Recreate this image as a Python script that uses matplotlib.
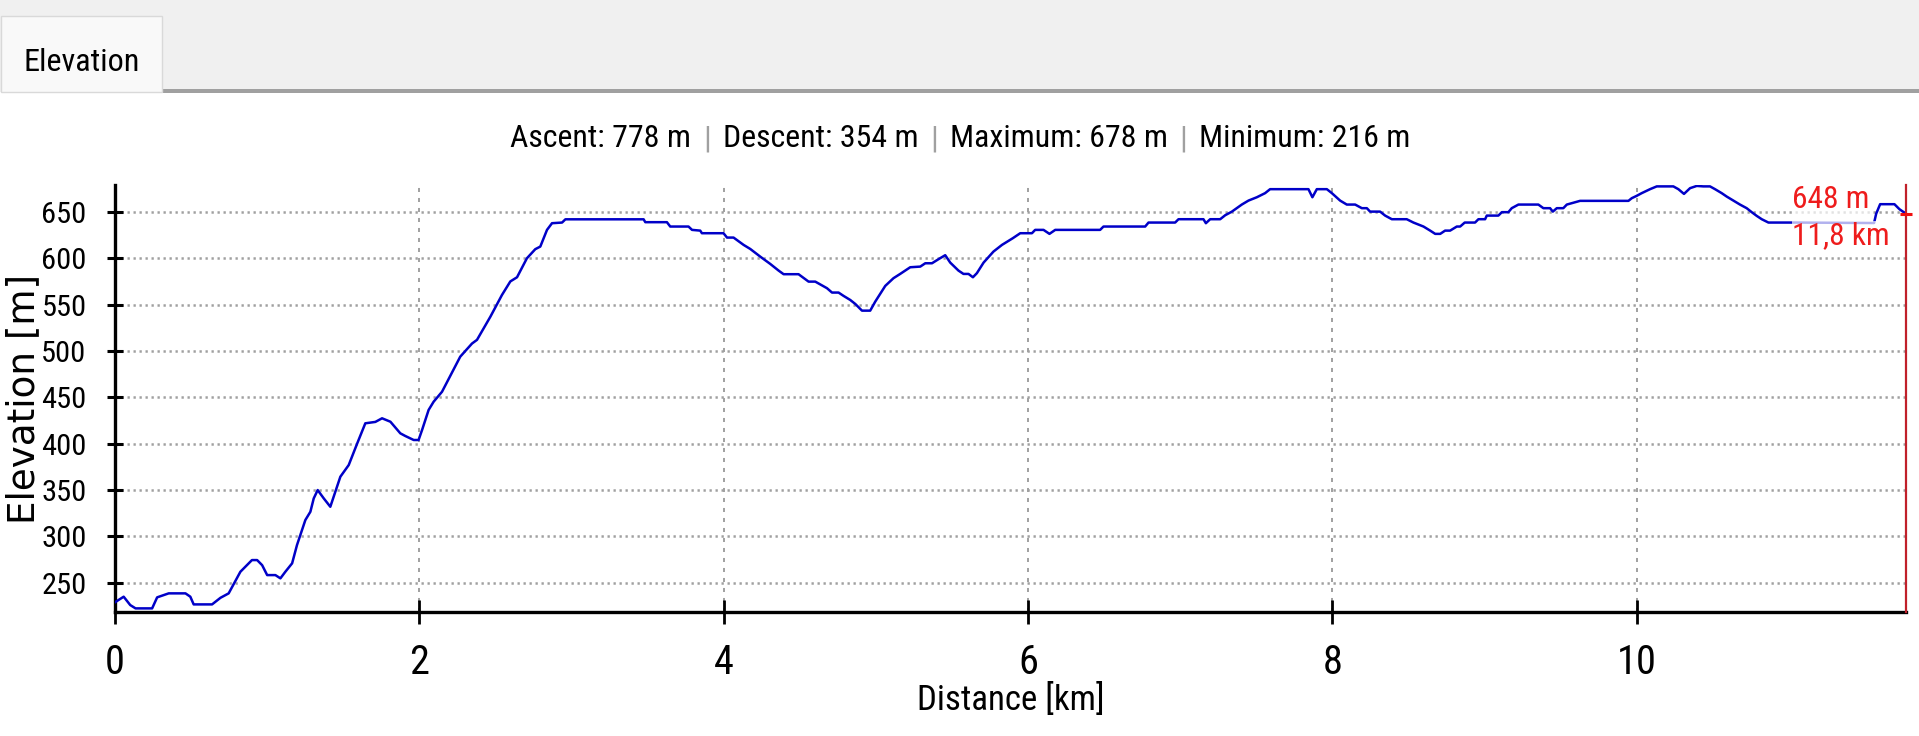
import matplotlib
matplotlib.use("Agg")
import matplotlib.pyplot as plt
from matplotlib import font_manager as fm
from matplotlib.patches import Rectangle

# elevation profile
dist_km = [0.0, 0.057, 0.10, 0.135, 0.244, 0.277, 0.353, 0.463, 0.495, 0.517,
           0.638, 0.693, 0.747, 0.824, 0.868, 0.90, 0.934, 0.967, 1.0, 1.054,
           1.087, 1.12, 1.164, 1.196, 1.251, 1.284, 1.306, 1.332, 1.372, 1.415,
           1.481, 1.536, 1.591, 1.645, 1.711, 1.755, 1.81, 1.875, 1.908, 1.963,
           1.995, 2.018, 2.061, 2.094, 2.149, 2.269, 2.346, 2.379, 2.467, 2.543,
           2.598, 2.642, 2.707, 2.762, 2.795, 2.839, 2.872, 2.938, 2.96, 3.474,
           3.485, 3.627, 3.649, 3.769, 3.792, 3.846, 3.857, 3.999, 4.022, 4.065,
           4.131, 4.175, 4.24, 4.306, 4.361, 4.394, 4.492, 4.525, 4.558, 4.602,
           4.679, 4.712, 4.755, 4.788, 4.832, 4.865, 4.909, 4.963, 4.996, 5.062,
           5.116, 5.16, 5.193, 5.226, 5.292, 5.325, 5.369, 5.412, 5.456, 5.489,
           5.543, 5.576, 5.609, 5.638, 5.664, 5.708, 5.773, 5.829, 5.90, 5.949,
           6.026, 6.047, 6.102, 6.141, 6.179, 6.474, 6.496, 6.77, 6.792, 6.967,
           6.989, 7.153, 7.169, 7.197, 7.263, 7.296, 7.34, 7.405, 7.449, 7.504,
           7.558, 7.591, 7.843, 7.869, 7.898, 7.964, 7.997, 8.051, 8.095, 8.15,
           8.194, 8.227, 8.248, 8.314, 8.347, 8.391, 8.489, 8.533, 8.599, 8.643,
           8.676, 8.709, 8.741, 8.774, 8.818, 8.84, 8.87, 8.938, 8.96, 9.004,
           9.015, 9.091, 9.114, 9.157, 9.179, 9.223, 9.354, 9.387, 9.431, 9.449,
           9.475, 9.518, 9.541, 9.628, 9.946, 9.968, 10.0, 10.033, 10.088, 10.132,
           10.241, 10.274, 10.311, 10.351, 10.395, 10.438, 10.482, 10.515, 10.559, 10.592,
           10.636, 10.679, 10.723, 10.756, 10.789, 10.822, 10.866, 11.041, 11.56, 11.574,
           11.60, 11.694, 11.727, 11.77]
elev_m = [229, 235, 226, 222.4, 222.4, 234.3, 238.6, 238.6, 235, 226.7,
          226.7, 233.8, 238.6, 261.9, 269.1, 274.5, 274.5, 269, 258.3, 258.3,
          254.8, 262, 271, 290.7, 317.7, 326.6, 341, 350, 341, 332,
          364.4, 377, 400, 422, 423.5, 427.4, 423.7, 411.2, 408.3, 404,
          404, 414.8, 436.4, 445.3, 456, 493.9, 508, 512, 537, 560.4,
          575, 579.5, 600, 609.8, 612.6, 630.6, 637.8, 638.5, 642, 642,
          638.9, 638.9, 634.2, 634.2, 630.6, 629.8, 627, 627, 622.3, 622.3,
          614.4, 610, 601.8, 593.9, 586.7, 582.8, 582.8, 578.8, 574.8, 574.8,
          567.7, 563, 563, 559.4, 555, 550.7, 543.5, 543.5, 553.2, 570.2,
          578.5, 583.1, 586.7, 590.3, 591, 594.6, 594.6, 599, 603.3, 595.3,
          586.7, 583.1, 583.1, 579.5, 583.9, 595.3, 607.2, 614.4, 621.6, 627,
          627, 630.6, 630.6, 626.3, 630.6, 630.6, 634.2, 634.2, 638.5, 638.5,
          642.1, 642.1, 637.8, 642.1, 642.1, 646.4, 650.3, 657.9, 662.2, 665.8,
          670.2, 674.5, 674.5, 665.8, 674.5, 674.5, 670.2, 662.2, 657.9, 657.9,
          654, 654, 650.3, 650.3, 646, 642.1, 642.1, 638.5, 634.2, 629.8,
          626.3, 626.3, 629.8, 629.8, 634.2, 634.2, 638.5, 638.5, 642.1, 642.1,
          646, 646, 649.7, 649.7, 654, 657.9, 657.9, 654, 654, 650.3,
          654, 654, 657.9, 661.9, 661.9, 664.8, 667.3, 670.2, 674.5, 677.5,
          677.5, 674.5, 669.4, 675.6, 678, 677.5, 677.5, 674.5, 670.2, 666.5,
          662.2, 657.9, 654, 649.7, 645.7, 642.1, 638.5, 638.5, 638, 648,
          658.3, 658.3, 652.9, 648]

ascent = 778
descent = 354
maximum = 678
minimum = 216
end_elev_label = "648 m"
end_dist_label = "11,8 km"

x_ticks = [0, 2, 4, 6, 8, 10]
y_ticks = [250, 300, 350, 400, 450, 500, 550, 600, 650]

# the screenshot text is very narrow, so look for a condensed face
names = {f.name for f in fm.fontManager.ttflist}
narrow, stretch = None, "normal"
for n in ["Liberation Sans Narrow", "Roboto Condensed", "DejaVu Sans Condensed",
          "Open Sans Condensed"]:
    if n in names:
        narrow = n
        break
if narrow is None and any(f.name == "DejaVu Sans" and str(f.stretch) == "condensed"
                          for f in fm.fontManager.ttflist):
    narrow, stretch = "DejaVu Sans", "condensed"
if narrow is None:
    narrow = "Liberation Sans"

plt.rcParams["font.family"] = [narrow, "DejaVu Sans"]
plt.rcParams["font.stretch"] = stretch
plt.rcParams["lines.scale_dashes"] = False

W, H = 1919, 736
fig = plt.figure(figsize=(W / 100, H / 100), dpi=100)

# window chrome: grey strip, tab and its underline
fig.patches.append(Rectangle((0, 1 - 92 / H), 1, 92 / H, transform=fig.transFigure,
                             facecolor="#f0f0f0", edgecolor="none", zorder=0))
fig.patches.append(Rectangle((162 / W, 1 - 93 / H), 1, 4 / H, transform=fig.transFigure,
                             facecolor="#a0a0a0", edgecolor="none", zorder=1))
fig.patches.append(Rectangle((1 / W, 1 - 92 / H), 161 / W, 76 / H, transform=fig.transFigure,
                             facecolor="#f9f9f9", edgecolor="#d9d9d9", lw=1, zorder=2))
tab = fig.text(82 / W, 1 - 71 / H, "Elevation", ha="center", va="baseline",
               fontsize=20, color="black")

ax = fig.add_axes([115 / W, 1 - 612 / H, 1791 / W, 427 / H])

ax.plot(dist_km, elev_m, color="#0000c8", lw=1.8, zorder=3)
ax.set_xlim(0, dist_km[-1])
ax.set_ylim(218.5, 679)
ax.set_xticks(x_ticks)
ax.set_yticks(y_ticks)

ax.spines["top"].set_visible(False)
ax.spines["right"].set_visible(False)
ax.spines["left"].set_linewidth(2.4)
ax.spines["bottom"].set_linewidth(2.4)

ax.tick_params(axis="x", direction="inout", length=17.3, width=2, pad=13.7, labelsize=20)
ax.tick_params(axis="y", direction="inout", length=12.2, width=2.2, pad=14.4, labelsize=20)

ax.set_axisbelow(True)
ax.grid(axis="y", color="#a0a0a0", lw=1.8, ls=(0, (1.66, 2.66)))
ax.grid(axis="x", color="#a0a0a0", lw=1.4, ls=(0, (2.9, 4.3)))

ax.set_xlabel("Distance [km]", fontsize=20, va="top")
ax.xaxis.set_label_coords(0.5, (612 - 683) / 427)
ylab = ax.set_ylabel("Elevation [m]", fontsize=27, va="center")
ylab.set_fontfamily(["DejaVu Sans"])
ylab.set_fontstretch("normal")
ax.yaxis.set_label_coords((24 - 115) / 1791, 0.5)

# end-of-track cursor
ax.axvline(dist_km[-1], color="#c0202a", lw=1.6, zorder=4, clip_on=False)
ax.plot(dist_km[-1], elev_m[-1], marker="_", ms=8.6, mew=2.2, color="#f01010",
        zorder=5, clip_on=False)
box = dict(facecolor="white", alpha=0.7, edgecolor="none", pad=0)
lab_m = ax.annotate(end_elev_label, xy=(dist_km[-1], elev_m[-1]), xytext=(-81.9, 3.8),
                    textcoords="offset points", ha="left", va="baseline",
                    color="#ee1c1c", fontsize=20, bbox=box, zorder=6)
lab_km = ax.annotate(end_dist_label, xy=(dist_km[-1], elev_m[-1]), xytext=(-81.9, -22.1),
                     textcoords="offset points", ha="left", va="baseline",
                     color="#ee1c1c", fontsize=20, bbox=box, zorder=6)

# summary line, black values with grey separators
pieces = [(f"Ascent: {ascent} m", "black"), ("|", "#a0a0a0"),
          (f"Descent: {descent} m", "black"), ("|", "#a0a0a0"),
          (f"Maximum: {maximum} m", "black"), ("|", "#a0a0a0"),
          (f"Minimum: {minimum} m", "black")]
texts = [fig.text(0, 1 - 147 / H, s, color=c, fontsize=20, ha="left", va="baseline")
         for s, c in pieces]

# size the texts from their measured widths (pixels in the screenshot)
fig.canvas.draw()
r = fig.canvas.get_renderer()


def fitted(t, target, use_height=False):
    bb = t.get_window_extent(r)
    cur = bb.height if use_height else bb.width
    return t.get_fontsize() * target / cur


ax.tick_params(axis="y", labelsize=fitted(ax.get_yticklabels()[-1], 45))
ax.tick_params(axis="x", labelsize=fitted(ax.get_xticklabels()[1], 20))
# rotated label: keep its length near the original without getting too thick
ylab.set_fontsize(min(fitted(ylab, 250, use_height=True), fitted(ylab, 36)))
ax.xaxis.label.set_fontsize(fitted(ax.xaxis.label, 188))
tab.set_fontsize(fitted(tab, 116))
s = fitted(lab_km, 98)
lab_km.set_fontsize(s)
lab_m.set_fontsize(s)

gap = 12
widths = [t.get_window_extent(r).width for t in texts]
scale = (900 - gap * (len(texts) - 1)) / sum(widths)
x = 960 - 450
for t, w in zip(texts, widths):
    t.set_fontsize(t.get_fontsize() * scale)
    t.set_x(x / W)
    x += w * scale + gap

fig.savefig("out.png", dpi=100)
